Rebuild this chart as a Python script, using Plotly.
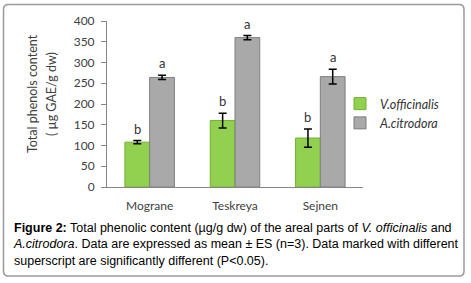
import plotly.graph_objects as go

categories = ["Mograne", "Teskreya", "Sejnen"]
v_officinalis = [108, 160, 118]
v_officinalis_err = [4, 18, 22]
a_citrodora = [264, 360, 266]
a_citrodora_err = [5, 5, 18]
v_letters = ["b", "b", "b"]
a_letters = ["a", "a", "a"]
y_ticks = [0, 50, 100, 150, 200, 250, 300, 350, 400]

W, H = 471, 283
L, R, T, B = 107, 108, 21, 96
pw, ph = W - L - R, H - T - B

def px(x):
    return (x - L) / pw

def py(y):
    return (H - B - y) / ph

xs = list(range(len(categories)))
bargap = 0.42
off = (1 - bargap) / 4

fig = go.Figure()
fig.add_trace(go.Bar(
    x=xs, y=v_officinalis, name="V.officinalis",
    marker=dict(color="#92D050", line=dict(color="#72B030", width=1)),
    error_y=dict(type="data", array=v_officinalis_err, color="black", thickness=1.5, width=4),
))
fig.add_trace(go.Bar(
    x=xs, y=a_citrodora, name="A.citrodora",
    marker=dict(color="#A9A9A9", line=dict(color="#7F7F7F", width=1)),
    error_y=dict(type="data", array=a_citrodora_err, color="black", thickness=1.5, width=4),
))

ann = []
for i in xs:
    ann.append(dict(x=i - off, y=v_officinalis[i] + v_officinalis_err[i], text=v_letters[i],
                    xref="x", yref="y", showarrow=False, yanchor="bottom", yshift=2,
                    font=dict(family="Lato", size=13, color="#333333")))
    ann.append(dict(x=i + off, y=a_citrodora[i] + a_citrodora_err[i], text=a_letters[i],
                    xref="x", yref="y", showarrow=False, yanchor="bottom", yshift=2,
                    font=dict(family="Lato", size=13, color="#333333")))

# y-axis title (two lines)
ann.append(dict(x=px(32), y=py(94), xref="paper", yref="paper", text="Total phenols content",
                textangle=-90, showarrow=False, xanchor="center", yanchor="middle",
                font=dict(family="Lato", size=12.5, color="#404040")))
ann.append(dict(x=px(51), y=py(94), xref="paper", yref="paper", text="( µg GAE/g dw)",
                textangle=-90, showarrow=False, xanchor="center", yanchor="middle",
                font=dict(family="Lato", size=12.5, color="#404040")))

caption = [
    "<b>Figure 2:</b> Total phenolic content (µg/g dw) of the areal parts of <i>V. officinalis</i> and",
    "<i>A.citrodora</i>. Data are expressed as mean ± ES (n=3). Data marked with different",
    "superscript are significantly different (P&lt;0.05).",
]
ann.append(dict(x=px(11), y=py(244), xref="paper", yref="paper", text="<br>".join(caption),
                showarrow=False, xanchor="left", yanchor="middle", align="left",
                font=dict(family="Liberation Sans", size=12.5, color="black")))

# rounded border
x0, x1, y0, y1 = px(3.5), px(464), py(276), py(4.5)
rx, ry = 5 / pw, 5 / ph
path = (f"M {x0+rx},{y1} L {x1-rx},{y1} Q {x1},{y1} {x1},{y1-ry} L {x1},{y0+ry} "
        f"Q {x1},{y0} {x1-rx},{y0} L {x0+rx},{y0} Q {x0},{y0} {x0},{y0+ry} "
        f"L {x0},{y1-ry} Q {x0},{y1} {x0+rx},{y1} Z")

fig.update_layout(
    width=W, height=H,
    margin=dict(l=L, r=R, t=T, b=B),
    paper_bgcolor="white", plot_bgcolor="white",
    barmode="group", bargap=bargap, bargroupgap=0,
    showlegend=True,
    legend=dict(x=px(340), y=py(89), xref="paper", yref="paper", xanchor="left", yanchor="top",
                font=dict(family="Lato", size=12.5, color="#333333", style="italic"),
                itemwidth=30, tracegroupgap=0, bgcolor="rgba(0,0,0,0)"),
    annotations=ann,
    shapes=[dict(type="path", path=path, xref="paper", yref="paper",
                 line=dict(color="#9A9A9A", width=1.5), fillcolor="rgba(0,0,0,0)", layer="below")],
    xaxis=dict(range=[-0.5, 2.5], tickvals=xs, ticktext=categories, showline=True,
               linecolor="#868686", linewidth=1, showgrid=False, zeroline=False, ticks="",
               ticklabelstandoff=8, tickfont=dict(family="Lato", size=12, color="#404040")),
    yaxis=dict(range=[0, 400], tickvals=y_ticks, showline=True, linecolor="#868686", linewidth=1,
               showgrid=False, zeroline=False, ticks="outside", ticklen=5, tickcolor="#868686",
               ticklabelstandoff=4, tickfont=dict(family="Lato", size=12, color="#404040")),
)

fig.write_html("out.html", config={"displayModeBar": False},
               post_script="document.body.style.margin='0';document.body.style.overflow='hidden';")
